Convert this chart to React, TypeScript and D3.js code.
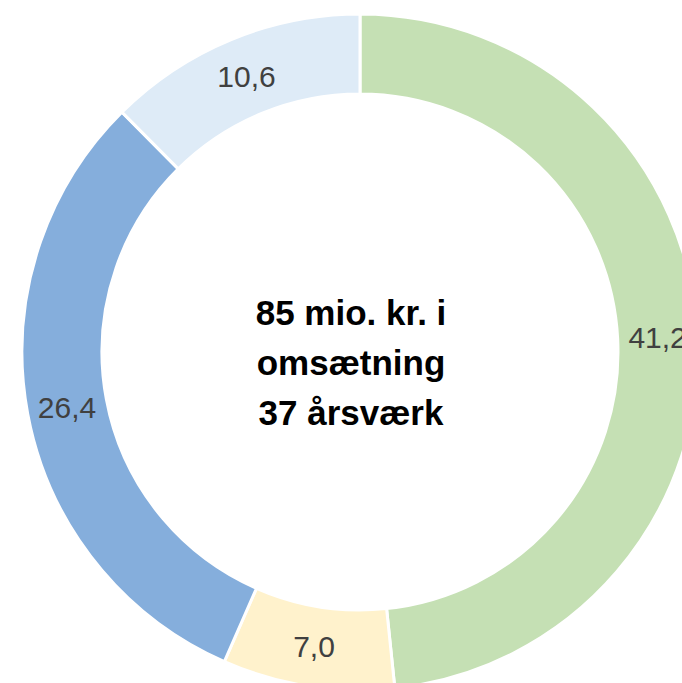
import React from "react";
import * as d3 from "d3";

const categories = ["A", "B", "C", "D"];
const values = [41.2, 7.0, 26.4, 10.6];
const labels = ["41,2", "7,0", "26,4", "10,6"];
const colors = ["#C5E0B4", "#FFF2CC", "#85AEDC", "#DEEBF7"];
const centerLines = ["85 mio. kr. i", "omsætning", "37 årsværk"];

export default function App() {
  const W = 682, H = 683;
  const cx = 360, cy = 352;
  const outerR = 338, innerR = 258;
  const pie = d3.pie<number>().sort(null).value((d) => d)(values);
  const arc = d3.arc<d3.PieArcDatum<number>>().innerRadius(innerR).outerRadius(outerR);
  const labelArc = d3.arc<d3.PieArcDatum<number>>().innerRadius(298).outerRadius(298);
  return (
    <svg width={W} height={H} style={{ position: "absolute", left: 0, top: 0, background: "#fff" }}>
      <g transform={`translate(${cx},${cy})`}>
        {pie.map((p, i) => (
          <path key={categories[i]} d={arc(p) || ""} fill={colors[i]} stroke="#fff" strokeWidth={3} />
        ))}
        {pie.map((p, i) => {
          const [x, y] = labelArc.centroid(p);
          return (
            <text key={"l" + i} x={x} y={y + 11} textAnchor="middle"
              fontFamily="Liberation Sans, Arial, sans-serif" fontSize={30} fill="#404040">
              {labels[i]}
            </text>
          );
        })}
        {centerLines.map((t, i) => (
          <text key={"c" + i} x={-9} y={-27 + i * 50} textAnchor="middle"
            fontFamily="Liberation Sans, Arial, sans-serif" fontWeight="bold" fontSize={35} fill="#000">
            {t}
          </text>
        ))}
      </g>
    </svg>
  );
}
